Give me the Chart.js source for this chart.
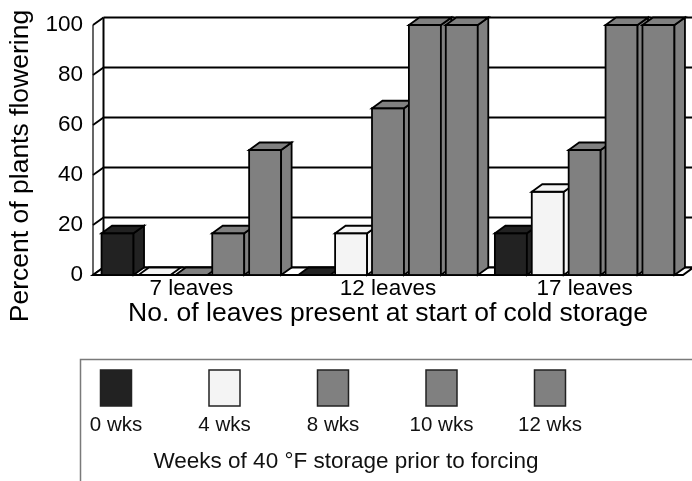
<!DOCTYPE html>
<html>
<head>
<meta charset="utf-8">
<script src="https://cdn.jsdelivr.net/npm/chart.js@4"></script>
<style>
  html, body { margin: 0; padding: 0; background: #fff; overflow: hidden; }
  canvas { display: block; }
</style>
</head>
<body>
<canvas id="chart" width="692" height="481" style="width:692px;height:481px"></canvas>
<script>
// Flowering response by leaf count and weeks of cold storage
const categories = ['7 leaves', '12 leaves', '17 leaves'];
const seriesLabels = ['0 wks', '4 wks', '8 wks', '10 wks', '12 wks'];
const weeks0  = [16.7, 0, 16.7];
const weeks4  = [0, 16.7, 33.3];
const weeks8  = [0, 66.7, 50];
const weeks10 = [16.7, 100, 100];
const weeks12 = [50, 100, 100];
const yTicks = [0, 20, 40, 60, 80, 100];

const seriesValues = [weeks0, weeks4, weeks8, weeks10, weeks12];
const seriesColors = ['#222222', '#f4f4f4', '#808080', '#808080', '#808080'];

const FONT = "'Liberation Sans', Arial, sans-serif";
const DX = 10.5, DY = -7.5;      // depth offset of the 3-D walls and boxes

function poly(ctx, pts, fill) {
  ctx.beginPath();
  ctx.moveTo(pts[0][0], pts[0][1]);
  for (let i = 1; i < pts.length; i++) ctx.lineTo(pts[i][0], pts[i][1]);
  ctx.closePath();
  if (fill) { ctx.fillStyle = fill; ctx.fill(); }
  ctx.stroke();
}
function seg(ctx, x1, y1, x2, y2) {
  ctx.beginPath(); ctx.moveTo(x1, y1); ctx.lineTo(x2, y2); ctx.stroke();
}

const box3d = {
  id: 'box3d',
  beforeDraw(chart) {
    const ctx = chart.ctx;
    ctx.save();
    ctx.fillStyle = '#fff';
    ctx.fillRect(0, 0, chart.width, chart.height);
    ctx.restore();
  },
  beforeDatasetsDraw(chart) {
    const { ctx, chartArea: { left, right, top, bottom }, scales: { y } } = chart;
    ctx.save();
    ctx.strokeStyle = '#000';
    // back wall
    ctx.fillStyle = '#fff';
    ctx.fillRect(left + DX, top + DY, right - left, bottom - top);
    ctx.lineWidth = 2;
    yTicks.forEach(v => {
      const py = y.getPixelForValue(v);
      seg(ctx, left, py, left + DX, py + DY);
      seg(ctx, left + DX, py + DY, right + DX + 2, py + DY);
    });
    seg(ctx, left + DX, top + DY, left + DX, bottom + DY);
    // front edge of the side wall
    ctx.lineWidth = 1.2;
    seg(ctx, left, top, left, bottom);
    // floor
    ctx.lineWidth = 2;
    poly(ctx, [[left, bottom], [right, bottom], [right + DX, bottom + DY], [left + DX, bottom + DY]], '#fff');
    ctx.restore();
  },
  afterDatasetsDraw(chart) {
    const ctx = chart.ctx;
    ctx.save();
    ctx.strokeStyle = '#000';
    ctx.lineWidth = 1.8;
    ctx.lineJoin = 'miter';
    chart.data.datasets.forEach((ds, di) => {
      const meta = chart.getDatasetMeta(di);
      meta.data.forEach(bar => {
        const l = bar.x - bar.width / 2, r = bar.x + bar.width / 2;
        const t = Math.min(bar.y, bar.base), b = Math.max(bar.y, bar.base);
        const col = ds.backgroundColor;
        if (b - t > 0.5) {
          ctx.fillStyle = col;
          ctx.fillRect(l, t, r - l, b - t);
          ctx.strokeRect(l, t, r - l, b - t);
          poly(ctx, [[r, t], [r + DX, t + DY], [r + DX, b + DY], [r, b]], col);
        }
        poly(ctx, [[l, t], [r, t], [r + DX, t + DY], [l + DX, t + DY]], col);
      });
    });
    ctx.restore();
  },
  afterDraw(chart) {
    const ctx = chart.ctx;
    ctx.save();
    // value axis title
    ctx.fillStyle = '#000';
    ctx.font = '26.5px ' + FONT;
    ctx.textAlign = 'center';
    ctx.textBaseline = 'middle';
    ctx.translate(20.5, 166);
    ctx.rotate(-Math.PI / 2);
    ctx.fillText('Percent of plants flowering', 0, 0);
    ctx.restore();

    // legend
    ctx.save();
    ctx.strokeStyle = '#7a7a7a';
    ctx.lineWidth = 1.5;
    ctx.strokeRect(80.5, 359.5, 700, 200);
    chart.data.datasets.forEach((ds, i) => {
      const cx = 116 + i * 108.5;
      ctx.fillStyle = ds.backgroundColor;
      ctx.fillRect(cx - 15.5, 370, 31, 36);
      ctx.strokeStyle = '#222';
      ctx.lineWidth = 1.5;
      ctx.strokeRect(cx - 15.5, 370, 31, 36);
      ctx.fillStyle = '#111';
      ctx.font = '20.5px ' + FONT;
      ctx.textAlign = 'center';
      ctx.textBaseline = 'middle';
      ctx.fillText(ds.label, cx, 425);
    });
    ctx.fillStyle = '#111';
    ctx.font = '22.5px ' + FONT;
    ctx.textAlign = 'center';
    ctx.textBaseline = 'middle';
    ctx.fillText('Weeks of 40 \u00B0F storage prior to forcing', 346, 462);
    ctx.restore();
  }
};

new Chart(document.getElementById('chart'), {
  type: 'bar',
  data: {
    labels: categories,
    datasets: seriesLabels.map((label, i) => ({
      label,
      data: seriesValues[i],
      backgroundColor: seriesColors[i],
      borderColor: '#000',
      borderWidth: 0,
      categoryPercentage: 0.938,
      barPercentage: 0.867
    }))
  },
  options: {
    responsive: false,
    animation: false,
    devicePixelRatio: 1,
    layout: { padding: { left: 0, top: 25, right: 9, bottom: 151 } },
    plugins: { legend: { display: false }, tooltip: { enabled: false } },
    scales: {
      x: {
        grid: { display: false, drawTicks: false },
        border: { display: false },
        ticks: { color: '#000', font: { family: FONT, size: 22.5 }, padding: 0, maxRotation: 0 },
        title: {
          display: true,
          text: 'No. of leaves present at start of cold storage',
          color: '#000',
          font: { family: FONT, size: 26.5 },
          padding: 0
        },
        afterFit(s) { s.height = 55; }
      },
      y: {
        min: 0,
        max: 100,
        grid: { display: false, drawTicks: false },
        border: { display: false },
        ticks: { stepSize: 20, color: '#000', font: { family: FONT, size: 22.5 }, padding: 10 },
        afterFit(s) { s.width = 93; }
      }
    }
  },
  plugins: [box3d]
});
</script>
</body>
</html>
